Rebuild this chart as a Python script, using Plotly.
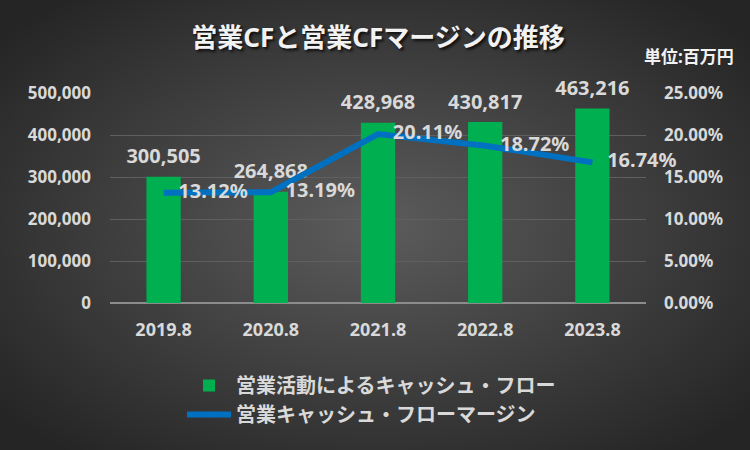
import base64
import plotly.graph_objects as go

categories = ["2019.8", "2020.8", "2021.8", "2022.8", "2023.8"]
cf_values = [300505, 264868, 428968, 430817, 463216]
margin_pct = [13.12, 13.19, 20.11, 18.72, 16.74]
left_ticks = [0, 100000, 200000, 300000, 400000, 500000]
right_ticks = [0, 5, 10, 15, 20, 25]

W, H = 750, 450
ML, MR, MT, MB = 110, 104, 93, 147
PW, PH = W - ML - MR, H - MT - MB

FONT = "Noto Sans, Noto Sans CJK JP, sans-serif"
TXT = "#d9d9d9"

svg = f'''<svg xmlns="http://www.w3.org/2000/svg" width="{W}" height="{H}" viewBox="0 0 {W} {H}" preserveAspectRatio="none">
<defs><radialGradient id="g" cx="50%" cy="50%" r="65%">
<stop offset="0" stop-color="#5c5c5c"/><stop offset="1" stop-color="#252525"/></radialGradient></defs>
<rect width="{W}" height="{H}" fill="url(#g)"/></svg>'''
bg_src = "data:image/svg+xml;base64," + base64.b64encode(svg.encode()).decode()

fig = go.Figure()
fig.add_trace(go.Bar(
    x=categories, y=cf_values, name="営業活動によるキャッシュ・フロー",
    marker=dict(color="#00B050", line=dict(width=0)),
    yaxis="y",
))
# bar value labels (same data, placed above each bar)
fig.add_trace(go.Scatter(
    x=categories, y=cf_values, mode="markers+text", showlegend=False,
    marker=dict(size=12, color="rgba(0,0,0,0)"),
    text=[f"{v:,}" for v in cf_values], textposition="top center",
    textfont=dict(family=FONT, size=20, color=TXT, weight="bold"),
    cliponaxis=False, yaxis="y", hoverinfo="skip",
))
fig.add_trace(go.Scatter(
    x=categories, y=margin_pct, name="営業キャッシュ・フローマージン",
    mode="lines+markers+text", line=dict(color="#0070C0", width=6),
    marker=dict(size=22, color="rgba(0,0,0,0)"),
    text=[f"{v:.2f}%" for v in margin_pct], textposition="middle right",
    textfont=dict(family=FONT, size=20, color=TXT, weight="bold"),
    cliponaxis=False, yaxis="y2",
))

fig.update_layout(
    width=W, height=H,
    margin=dict(l=ML, r=MR, t=MT, b=MB),
    paper_bgcolor="#3a3a3a", plot_bgcolor="rgba(0,0,0,0)",
    bargap=0.68,
    showlegend=True,
    legend=dict(orientation="v", x=(182 - ML) / PW, y=(MT + PH - 366) / PH,
                xanchor="left", yanchor="top",
                font=dict(family=FONT, size=20, color=TXT, weight="bold"),
                bgcolor="rgba(0,0,0,0)", itemwidth=44, tracegroupgap=6),
    title=dict(text="営業CFと営業CFマージンの推移", x=0.5, xref="paper", xanchor="center",
               y=1 - 38 / H, yref="container", yanchor="middle",
               font=dict(family=FONT, size=26, color="#f2f2f2", weight="bold",
                         shadow="2px 2px 3px rgba(0,0,0,0.8)")),
    xaxis=dict(type="category", showgrid=False, showline=False, ticks="",
               ticklabelstandoff=14,
               tickfont=dict(family=FONT, size=18, color=TXT, weight="bold")),
    yaxis=dict(range=[0, 500000], tickvals=left_ticks,
               ticktext=[f"{v:,}" for v in left_ticks],
               showgrid=True, gridcolor="#5f5f5f", gridwidth=1,
               zeroline=True, zerolinecolor="#8c8c8c", zerolinewidth=1.5,
               showline=False, ticks="", ticklabelstandoff=18,
               tickfont=dict(family=FONT, size=17, color=TXT, weight="bold")),
    yaxis2=dict(range=[0, 25], tickvals=right_ticks,
                ticktext=[f"{v:.2f}%" for v in right_ticks],
                overlaying="y", side="right", showgrid=False, zeroline=False,
                showline=False, ticks="", ticklabelstandoff=17,
                tickfont=dict(family=FONT, size=17, color=TXT, weight="bold")),
    images=[dict(source=bg_src, xref="paper", yref="paper",
                 x=-ML / PW, y=1 + MT / PH, sizex=W / PW, sizey=H / PH,
                 xanchor="left", yanchor="top", sizing="stretch", layer="below")],
    annotations=[dict(text="単位:百万円", x=(W - 14 - ML) / PW, y=(MT + PH - 57) / PH,
                      xref="paper", yref="paper", xanchor="right", yanchor="middle",
                      showarrow=False,
                      font=dict(family=FONT, size=17, color="#f2f2f2", weight="bold"))],
)

fig.write_html("out.html", config={"displayModeBar": False},
               post_script="document.body.style.margin='0';document.body.style.overflow='hidden';")
